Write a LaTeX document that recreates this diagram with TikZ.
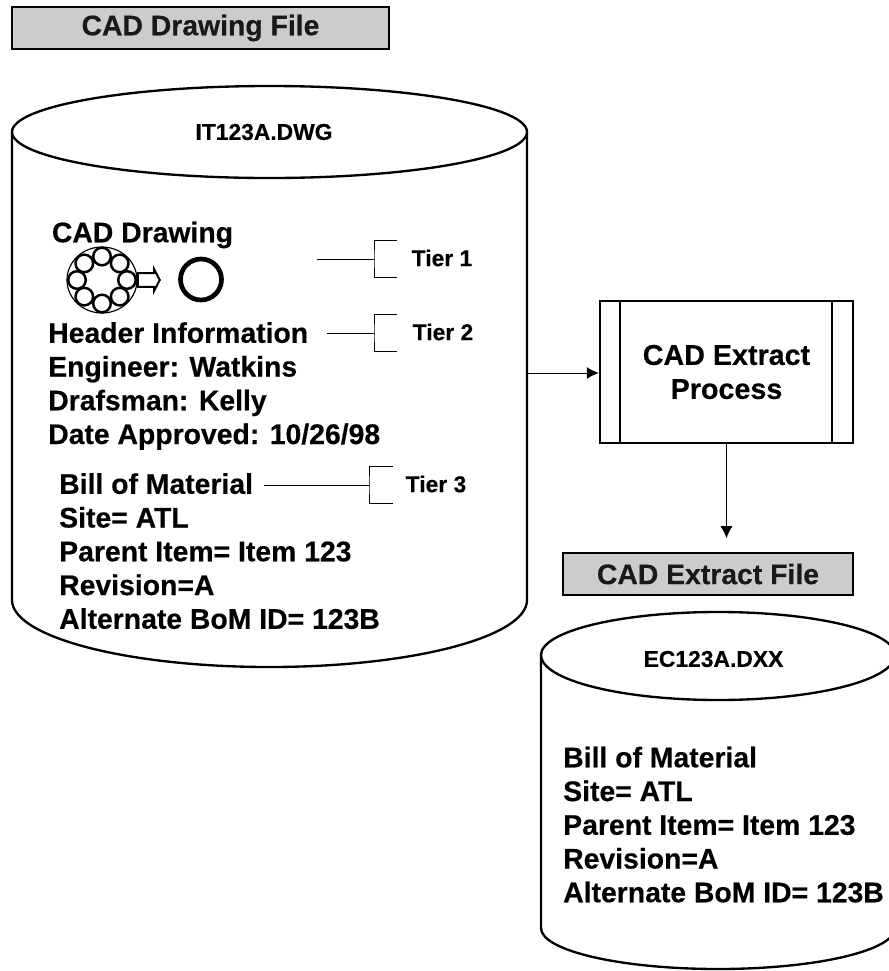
\documentclass[tikz,border=0pt]{standalone}
\usepackage{fontspec}
\setmainfont[BoldFeatures={FakeBold=0.35}]{Liberation Sans}
\usetikzlibrary{arrows.meta, calc, positioning, shapes.arrows}
\tikzset{
    titlebox/.style={rectangle, draw=black, line width=1.3pt, fill=black!20, align=center,
        font=\fontsize{24.2}{26}\bfseries, text=black!90, inner sep=0pt},
    bigtext/.style={align=left, font=\fontsize{24.2}{28.8}\bfseries, inner sep=0pt},
    smalltext/.style={font=\fontsize{19.5}{20}\bfseries, inner sep=0pt},
    procbox/.style={rectangle, draw=black, line width=2.1pt, align=center,
        minimum width=7.59cm, minimum height=4.26cm, font=\fontsize{24.5}{29}\bfseries},
    drum/.style={draw=black, line width=2pt, fill=white},
    thin line/.style={draw=black, line width=0.8pt},
    arrow/.style={-{Latex[length=3.6mm, width=3.6mm]}, line width=0.8pt},
}
\begin{document}
\begin{tikzpicture}[x=0.03cm, y=-0.03cm]
    \useasboundingbox (0,0) rectangle (889,971);

    \node[titlebox, minimum width=11.31cm, minimum height=1.26cm] (drawingtitle) at (200.5,28) {CAD Drawing File};
    \node[titlebox, minimum width=8.7cm, minimum height=1.26cm] (extracttitle) at (708,574) {CAD Extract File};

    \path[drum] (12,132) -- (12,600) arc[start angle=180, end angle=0, x radius=257.5, y radius=67]
        -- (527,132) arc[start angle=0, end angle=-180, x radius=257.5, y radius=46] -- cycle;
    \draw[drum] (12,132) arc[start angle=180, end angle=0, x radius=257.5, y radius=46];
    \coordinate (drawingside) at (527,373);

    \path[drum] (541,655) -- (541,928) arc[start angle=180, end angle=0, x radius=177, y radius=41]
        -- (895,655) arc[start angle=0, end angle=-180, x radius=177, y radius=43] -- cycle;
    \draw[drum] (541,655) arc[start angle=180, end angle=0, x radius=177, y radius=45];

    \node[smalltext] (drawingname) at (264,132) {IT123A.DWG};
    \node[smalltext] (extractname) at (713.5,659) {EC123A.DXX};

    \node[bigtext] (cadtext) at (142.5,235) {CAD Drawing};
    \node[bigtext, anchor=north west] (headertext) at (48,322) {Header Information\\Engineer:  Watkins\\Drafsman:  Kelly\\Date Approved: 10/26/98};
    \node[bigtext, anchor=north west] (bomtext) at (59,473) {Bill of Material\\Site= ATL\\Parent Item= Item 123\\Revision=A\\Alternate BoM ID= 123B};
    \node[bigtext, anchor=north west] (extracttext) at (563,746.5) {Bill of Material\\Site= ATL\\Parent Item= Item 123\\Revision=A\\Alternate BoM ID= 123B};

    \node[single arrow, draw=black, line width=1.7pt, fill=white, minimum height=0.66cm, minimum width=0.66cm,
        single arrow tip angle=125, single arrow head extend=2.5pt, single arrow head indent=0pt, inner sep=3.2pt] (hollowarrow) at (147,280) {};
    \draw[line width=1pt, fill=white] (102,280) ellipse[x radius=35, y radius=33];
    \foreach \a in {0,45,...,315}
        \draw[line width=2.1pt, fill=white] ($(102,280)+(\a:25 and 23.5)$) circle[radius=8.8];
    \draw[line width=4pt] (201,279.5) circle[radius=20.5];

    \foreach \y/\n/\x/\xa/\ya/\xb in {259/1/317/374/442/397, 333/2/327/374/443/397, 485/3/264/369/436/393}{
        \coordinate (tier\n start) at (\x,\y);
        \coordinate (tier\n mid) at (\xa,\y);
        \coordinate (tier\n top) at (\xb,\y-19);
        \coordinate (tier\n bot) at (\xb,\y+18.5);
        \node[smalltext] (tier\n) at (\ya,\y-1) {Tier \n};
        \draw[thin line] (tier\n start) -- (tier\n mid);
        \draw[thin line] (tier\n top) -| (tier\n mid) |- (tier\n bot);
    }

    \node[procbox] (extract) at (726.5,372) {CAD Extract\\Process};
    \draw[line width=2.1pt] ($(extract.north west)+(21,0)$) -- ($(extract.south west)+(21,0)$);
    \draw[line width=2.1pt] ($(extract.north east)+(-22,0)$) -- ($(extract.south east)+(-22,0)$);
    \draw[arrow] (drawingside) -- (drawingside -| extract.west);
    \draw[arrow] (extract.south) -- ++(0,94) coordinate (extractend);
\end{tikzpicture}
\end{document}
